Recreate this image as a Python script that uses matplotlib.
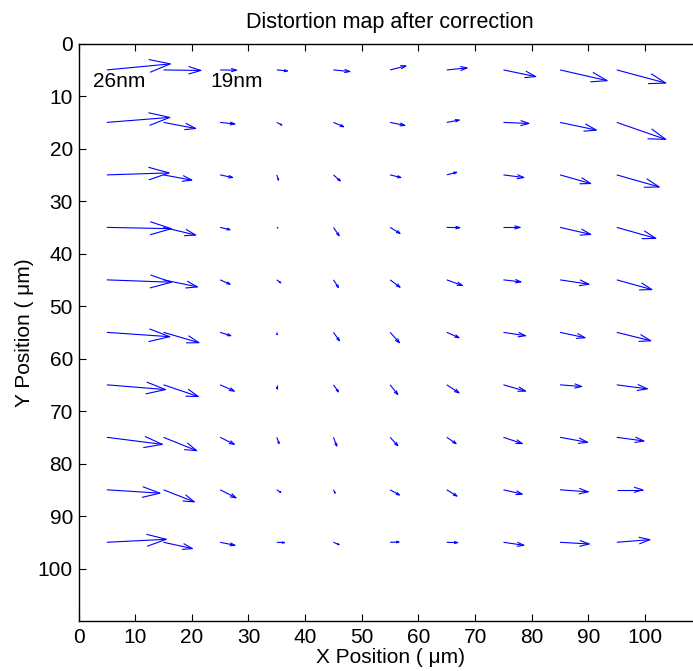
import numpy as np
import matplotlib
matplotlib.use("Agg")
import matplotlib.pyplot as plt
from matplotlib.collections import LineCollection

plt.rcParams['font.family'] = ['Liberation Sans', 'DejaVu Sans']

# grid positions (um)
x_pos = [5, 15, 25, 35, 45, 55, 65, 75, 85, 95]
y_pos = [5, 15, 25, 35, 45, 55, 65, 75, 85, 95]

# displacement components in plot units, one row per Y position
u_rows = [
    [11.2, 6.6, 2.9, 1.9, 2.9, 2.8, 3.6, 5.7, 8.3, 8.65],
    [11.1, 5.67, 2.6, 0.9, 1.8, 2.6, 2.2, 4.5, 6.4, 8.65],
    [11.0, 5.0, 2.2, 0.3, 1.2, 1.9, 1.75, 3.6, 5.4, 7.5],
    [11.4, 5.67, 1.75, 0.2, 1.0, 1.75, 2.3, 2.9, 5.4, 6.9],
    [11.4, 6.0, 1.75, 0.7, 0.88, 1.75, 2.75, 3.1, 5.1, 6.2],
    [11.1, 6.26, 1.87, 0.06, 1.05, 1.64, 2.16, 3.9, 4.4, 6.0],
    [10.35, 6.14, 2.5, 0.0, 0.88, 1.35, 2.16, 3.9, 3.8, 5.4],
    [9.8, 5.85, 2.5, 0.4, 0.58, 1.35, 1.64, 3.33, 4.86, 4.8],
    [9.36, 5.44, 2.8, 0.7, 0.3, 1.64, 1.8, 3.33, 4.97, 4.56],
    [10.5, 5.1, 2.6, 1.35, 1.0, 1.58, 1.93, 3.6, 5.15, 5.85],
]
v_rows = [
    [-1.15, 0.1, 0.05, 0.2, 0.3, -0.76, -0.38, 1.27, 2.04, 2.5],
    [-0.95, 1.15, 0.3, 0.5, 0.83, 0.57, -0.45, 0.2, 1.46, 3.24],
    [-0.38, 1.0, 0.5, 1.0, 1.15, 0.5, -0.5, 0.5, 1.65, 2.3],
    [0.25, 1.46, 0.45, 0.1, 1.6, 1.15, 0.06, 0.0, 1.34, 2.1],
    [0.45, 1.34, 0.83, 0.57, 1.46, 1.4, 1.08, 0.38, 0.83, 1.85],
    [0.83, 1.97, 0.64, 0.45, 1.6, 1.97, 1.02, 0.64, 1.02, 1.6],
    [0.9, 2.23, 1.2, 0.7, 1.34, 1.85, 1.53, 1.2, 0.32, 0.76],
    [1.34, 2.54, 1.34, 1.2, 1.66, 1.6, 1.2, 1.2, 0.95, 0.7],
    [0.64, 2.3, 1.53, 0.5, 0.64, 1.0, 1.2, 0.83, 0.38, 0.0],
    [-0.57, 1.2, 0.57, 0.06, 0.45, -0.06, 0.06, 0.57, 0.32, -0.5],
]

scale_labels = ["26nm", "19nm"]
scale_label_x = [2.6, 23.2]
scale_label_y = [7.3, 7.3]

x_ticks = [0, 10, 20, 30, 40, 50, 60, 70, 80, 90, 100]
y_ticks = [0, 10, 20, 30, 40, 50, 60, 70, 80, 90, 100]

X, Y = np.meshgrid(x_pos, y_pos)
U = np.array(u_rows)
V = np.array(v_rows)

FS = 15

fig = plt.figure(figsize=(6.93, 6.71), dpi=100)
ax = fig.add_axes([0.1133, 0.0745, 0.8993, 0.8604])

# quiver-style arrows: shaft plus open two-line head
alpha, beta = 0.33, 0.33
segs = []
for x, y, u, v in zip(X.ravel(), Y.ravel(), U.ravel(), V.ravel()):
    segs.append([(x, y), (x + u, y + v)])
    hx = [x + u - alpha * (u + beta * v), x + u, x + u - alpha * (u - beta * v)]
    hy = [y + v - alpha * (v - beta * u), y + v, y + v - alpha * (v + beta * u)]
    segs.append(list(zip(hx, hy)))
ax.add_collection(LineCollection(segs, colors=(0, 0, 1), linewidths=0.8))

for s, tx, ty in zip(scale_labels, scale_label_x, scale_label_y):
    ax.text(tx, ty, s, fontsize=FS, ha='left', va='center')

ax.set_xlim(0, 110)
ax.set_ylim(110, 0)
ax.set_xticks(x_ticks)
ax.set_yticks(y_ticks)
ax.tick_params(direction='in', length=5, width=0.8, labelsize=FS,
               top=True, right=True)
ax.tick_params(axis='x', pad=5)
ax.tick_params(axis='y', pad=4)
for sp in ax.spines.values():
    sp.set_linewidth(1.0)

ax.set_title("Distortion map after correction", fontsize=15.5, pad=11)
ax.set_xlabel("X Position ( μm)", fontsize=FS, labelpad=1)
ax.set_ylabel("Y Position ( μm)", fontsize=FS, labelpad=3)

fig.savefig("out.png", dpi=100)
